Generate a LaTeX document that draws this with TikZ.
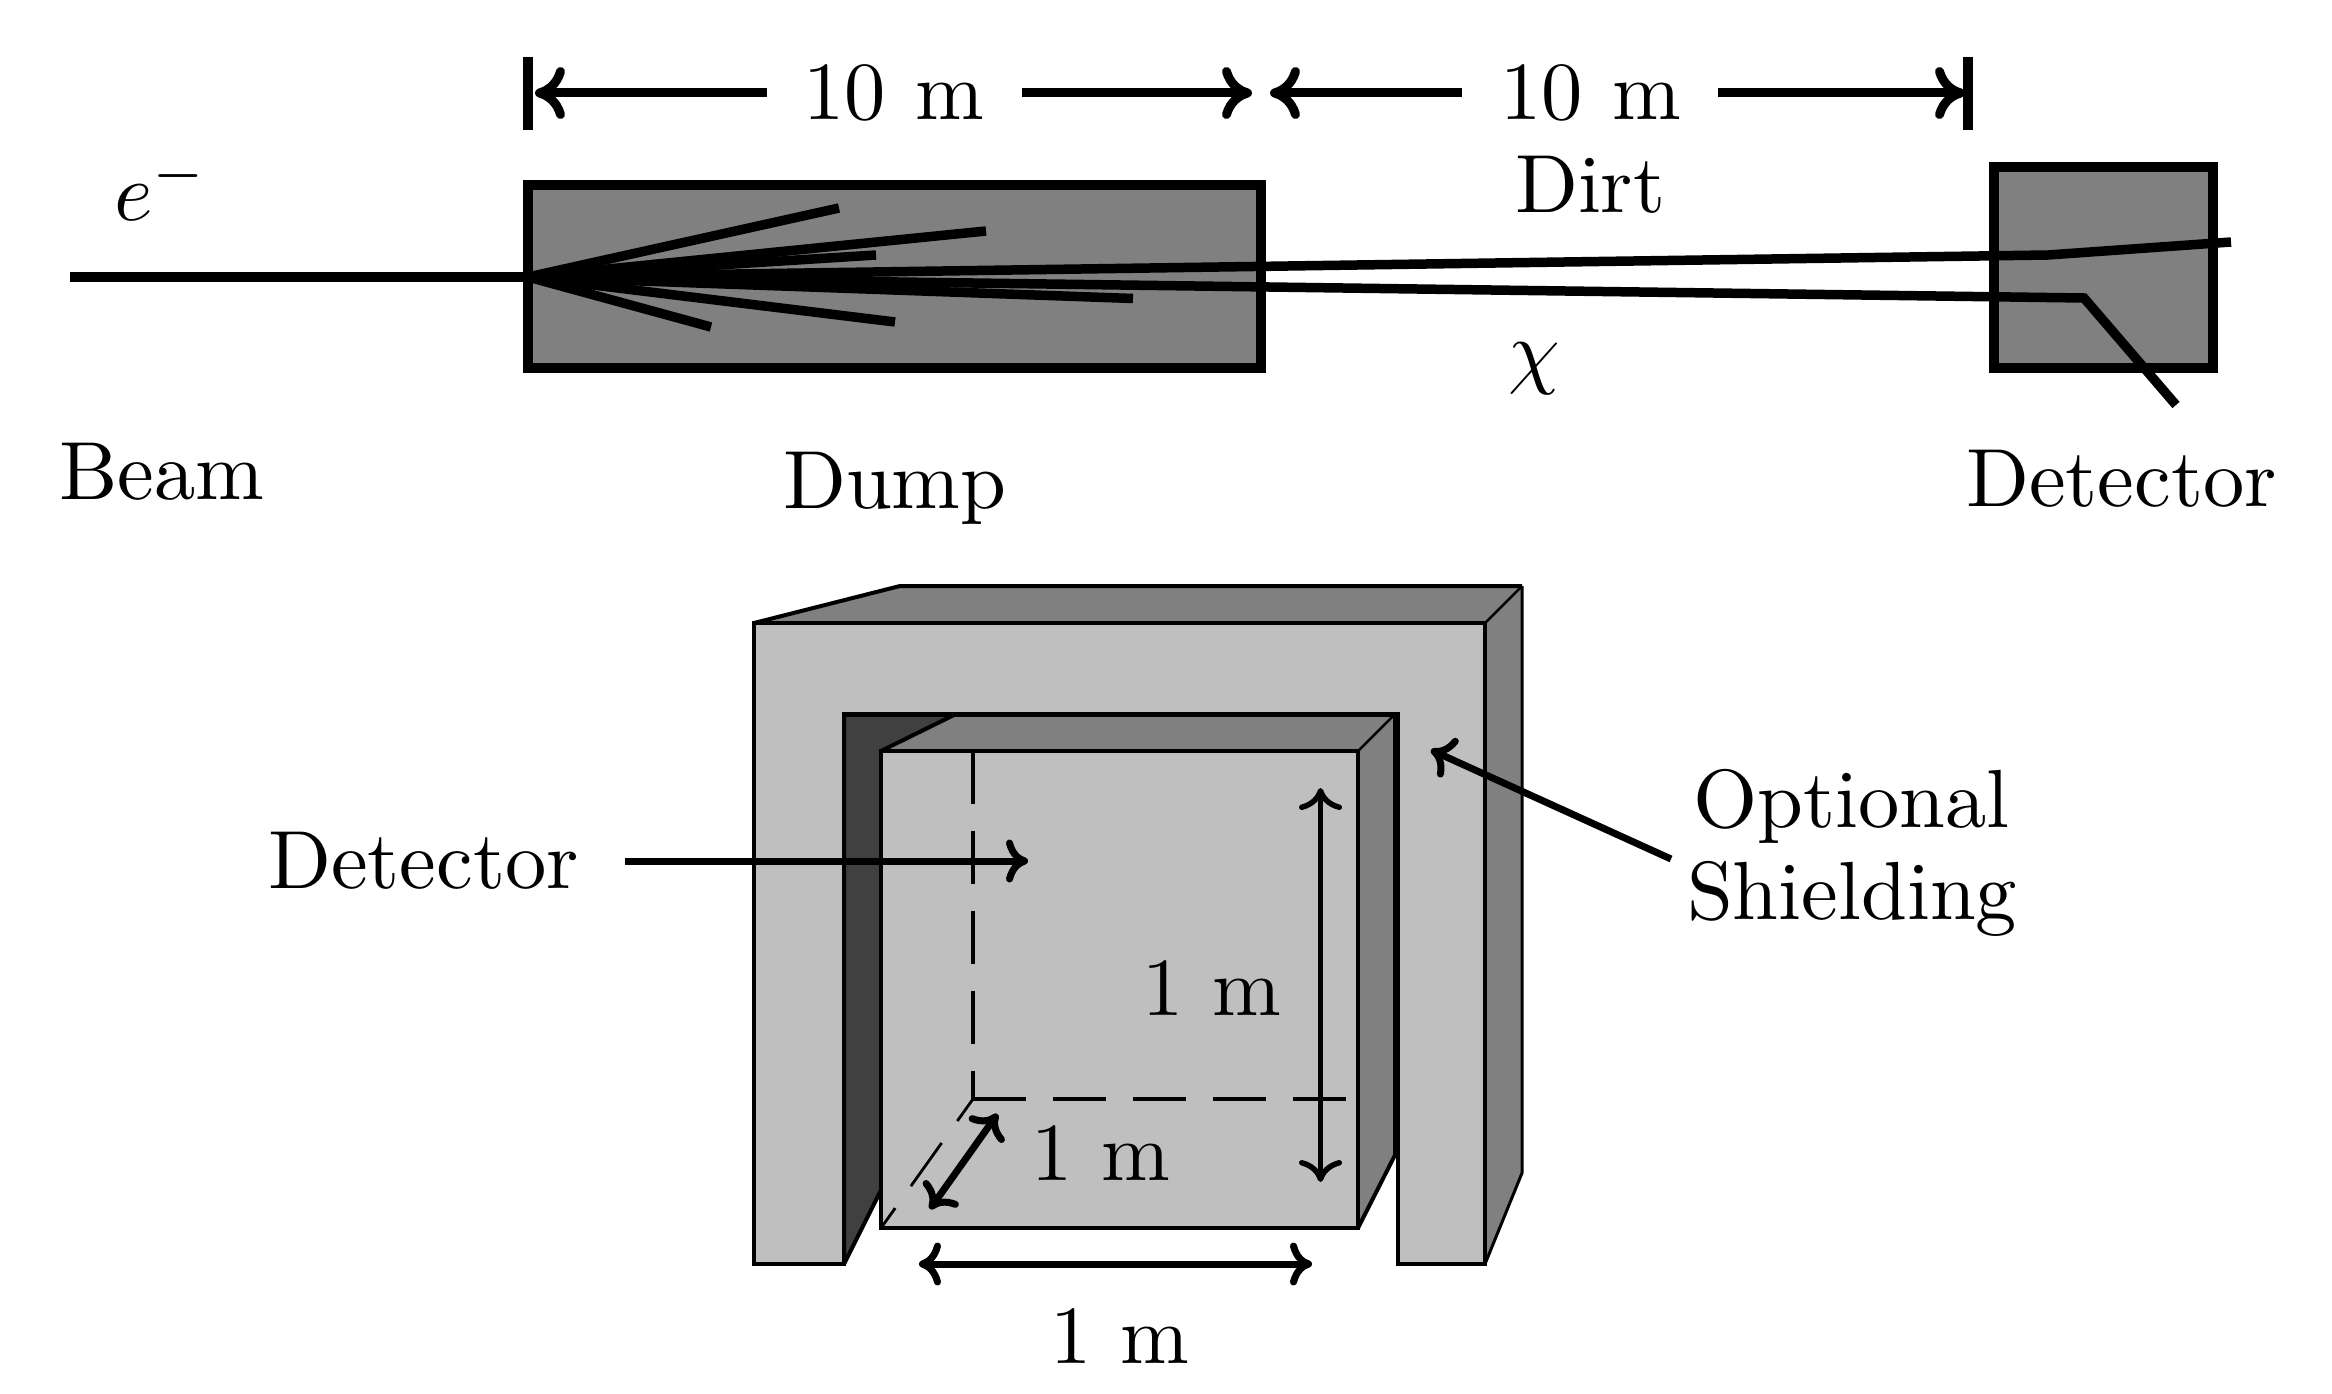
\documentclass[tikz,border=0pt]{standalone}
\usepackage{fontspec}
\usetikzlibrary{arrows.meta}
\definecolor{midgrey}{HTML}{808080}
\definecolor{lightgrey}{HTML}{BFBFBF}
\definecolor{darkgrey}{HTML}{404040}
\tikzset{
  lbl/.style={anchor=base west,inner sep=0pt,outer sep=0pt,scale=8.25},
  box/.style={draw=black,fill=midgrey,line width=10pt},
  track/.style={line width=9.5pt,line join=miter},
  dim/.style={line width=9pt,-{Computer Modern Rightarrow[length=30pt,width=52pt]}},
  dimb/.style={line width=7pt,{Computer Modern Rightarrow[length=22pt,width=43pt]}-{Computer Modern Rightarrow[length=22pt,width=43pt]}},
  point/.style={line width=7pt,-{Computer Modern Rightarrow[length=22pt,width=43pt]}},
  edge4/.style={draw=black,line width=4pt,line join=miter},
  edge3/.style={draw=black,line width=3pt,line join=miter},
  edge2/.style={draw=black,line width=2.5pt},
  dsh/.style={line width=3.5pt,dash pattern=on 53pt off 27pt},
}
\newcommand{\mgap}{\hspace{3.6pt}}
\begin{document}
\begin{tikzpicture}[x=1pt,y=-1pt]
\useasboundingbox (0,0) rectangle (2332,1394);
% ---- top: boxes
\draw[box] (528,185) rectangle (1261,368);
\draw[box] (1994,167) rectangle (2213,368);
% ---- tracks
\coordinate (hit) at (528,277);
\draw[track] (70,277) -- (hit);
\draw[track] (hit) -- (839,208);
\draw[track] (hit) -- (986,231);
\draw[track] (hit) -- (876,255);
\draw[track] (hit) -- (1133,298.5);
\draw[track] (hit) -- (895,322);
\draw[track] (hit) -- (711,327);
\draw[track] (hit) -- (2048,255) -- (2231,242);
\draw[track] (hit) -- (2084,298) -- (2176,405);
% ---- top dimensions
\draw[line width=9.5pt] (528,57) -- (528,130);
\draw[line width=9.5pt] (1968,57) -- (1968,130);
\coordinate (a1) at (767,93);\coordinate (a2) at (535,93);
\coordinate (a3) at (1022,93);\coordinate (a4) at (1252,93);
\coordinate (a5) at (1462,93);\coordinate (a6) at (1270,93);
\coordinate (a7) at (1718,93);\coordinate (a8) at (1965,93);
\draw[dim] (a1) -- (a2);
\draw[dim] (a3) -- (a4);
\draw[dim] (a5) -- (a6);
\draw[dim] (a7) -- (a8);
% ---- top labels
\node[lbl] (d1) at (803,120) {10\mgap m};
\node[lbl] (d2) at (1500,120) {10\mgap m};
\node[lbl] (elec) at (114,220) {$e^-$};
\node[lbl] (beam) at (59,499) {Beam};
\node[lbl] (dump) at (783,508) {Dump};
\node[lbl] (dirt) at (1515,212.5) {Dirt};
\node[lbl] (chi) at (1508,378) {$\chi$};
\node[lbl] (det1) at (1966,506.5) {Detector};
% ---- shielding: fills
\fill[midgrey] (754,623) -- (900,586) -- (1522,586) -- (1485,623) -- cycle;
\fill[midgrey] (1485,623) -- (1522,586) -- (1522,1173) -- (1485,1264) -- cycle;
\draw[edge4] (754,623) -- (900,586) -- (1522,586);
\draw[edge2] (1485,623) -- (1522,586);
\draw[edge3] (1522,586) -- (1522,1173) -- (1485,1264);
\draw[edge4,fill=lightgrey] (754,623) -- (1485,623) -- (1485,1264) -- (1398,1264) -- (1398,714) -- (844,714) -- (844,1264) -- (754,1264) -- cycle;
% ---- inner walls
\fill[darkgrey] (844,714) -- (956,714) -- (881,751) -- (881,1190) -- (844,1264) -- cycle;
\draw[edge4,line join=bevel] (881,1190) -- (844,1264) -- (844,714);
\fill[midgrey] (881,751) -- (956,714) -- (1395,714) -- (1358,751) -- cycle;
\fill[midgrey] (1358,751) -- (1395,714) -- (1395,1155) -- (1358,1228) -- cycle;
\draw[edge4] (881,751) -- (956,714);
\draw[edge2] (1358,751) -- (1395,714);
\draw[edge4] (1395,714) -- (1395,1155) -- (1358,1228);
\draw[line width=5pt] (842,714) -- (1398,714);
\draw[edge4,fill=lightgrey] (881,751) rectangle (1358,1228);
% ---- hidden edges
\coordinate (bk) at (973,1099);
\draw[dsh] (973,751) -- (bk);
\draw[dsh] (bk) -- (1349,1099);
\draw[line width=2.8pt,dash pattern=on 53pt off 27pt,dash phase=26pt] (bk) -- (881,1228);
% ---- lower arrows
\coordinate (b1) at (625,861);\coordinate (b2) at (1028,861);
\draw[point] (b1) -- (b2);
\coordinate (c1) at (1671,859);\coordinate (c2) at (1431,750);
\draw[point] (c1) -- (c2);
\coordinate (e1) at (1320.5,788);\coordinate (e2) at (1320.5,1182);
\draw[dimb,line width=5.5pt] (e1) -- (e2);
\coordinate (f1) at (919,1264);\coordinate (f2) at (1312,1264);
\draw[dimb] (f1) -- (f2);
\coordinate (g1) at (997.5,1114);\coordinate (g2) at (930,1209);
\draw[dimb] (g1) -- (g2);
% ---- lower labels
\node[lbl] (det2) at (268,888) {Detector};
\node[lbl] (opt) at (1693,827) {Optional};
\node[lbl] (shd) at (1687,919) {Shielding};
\node[lbl] (m1) at (1142,1015) {1\mgap m};
\node[lbl] (m2) at (1031,1180) {1\mgap m};
\node[lbl] (m3) at (1050,1363) {1\mgap m};
\end{tikzpicture}
\end{document}
